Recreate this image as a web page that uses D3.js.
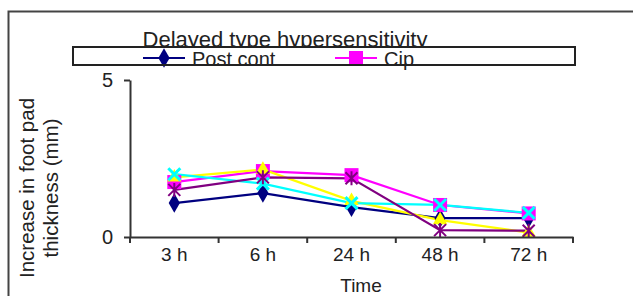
<!DOCTYPE html>
<html>
<head>
<meta charset="utf-8">
<script src="https://cdn.jsdelivr.net/npm/d3@7"></script>
<style>
  body { margin: 0; background: #fff; }
  text { font-family: "Liberation Sans", Arial, sans-serif; fill: #222; }
</style>
</head>
<body>
<svg id="chart" width="633" height="296"></svg>
<script>
var categories = ["3 h", "6 h", "24 h", "48 h", "72 h"];
var postCont = [1.08, 1.4, 0.95, 0.6, 0.6];
var cip = [1.75, 2.1, 1.97, 1.02, 0.75];
var seriesYellow = [1.9, 2.15, 1.15, 0.54, 0.14];
var seriesCyan = [2.0, 1.7, 1.08, 1.02, 0.77];
var seriesPurple = [1.5, 1.9, 1.87, 0.22, 0.2];
var yTicks = [0, 5];

var series = [
  {name: "Post cont", values: postCont, color: "#000080", marker: "diamond"},
  {name: "Cip", values: cip, color: "#FF00FF", marker: "square"},
  {name: "s3", values: seriesYellow, color: "#FFFF00", marker: "triangle"},
  {name: "s4", values: seriesCyan, color: "#00FFFF", marker: "x"},
  {name: "s5", values: seriesPurple, color: "#800080", marker: "star"}
];

var svg = d3.select("#chart");

// outer frame
svg.append("path")
  .attr("d", "M8.5,300 V11.5 H640")
  .attr("fill", "none").attr("stroke", "#444").attr("stroke-width", 2);

var x = d3.scaleBand().domain(categories).range([130, 573]);
var y = d3.scaleLinear().domain([0, 5]).range([237, 80]);

function drawMarker(g, type, color) {
  if (type == "diamond") {
    g.append("path").attr("d", d3.symbol().type(d3.symbolDiamond).size(110)())
      .attr("fill", color);
  } else if (type == "square") {
    g.append("rect").attr("x", -7).attr("y", -7).attr("width", 14).attr("height", 14)
      .attr("fill", color);
  } else if (type == "triangle") {
    g.append("path").attr("d", d3.symbol().type(d3.symbolTriangle).size(90)())
      .attr("fill", color);
  } else if (type == "x") {
    g.append("path").attr("d", "M-6,-6L6,6M-6,6L6,-6")
      .attr("stroke", color).attr("stroke-width", 3);
  } else {
    g.append("path").attr("d", "M-6,-6L6,6M-6,6L6,-6M0,-7V7")
      .attr("stroke", color).attr("stroke-width", 2);
  }
}

// series
var line = d3.line()
  .x(function(d, i) { return x(categories[i]) + x.bandwidth() / 2; })
  .y(function(d) { return y(d); });

series.forEach(function(s) {
  svg.append("path")
    .attr("d", line(s.values))
    .attr("fill", "none")
    .attr("stroke", s.color)
    .attr("stroke-width", 2.2);
});
series.forEach(function(s) {
  s.values.forEach(function(v, i) {
    var g = svg.append("g")
      .attr("transform", "translate(" + (x(categories[i]) + x.bandwidth() / 2) + "," + y(v) + ")");
    drawMarker(g, s.marker, s.color);
  });
});

// axes
var xAxis = svg.append("g").attr("transform", "translate(0,237)")
  .call(d3.axisBottom(x).tickSize(0).tickPadding(11));
xAxis.select(".domain").attr("stroke", "#333").attr("stroke-width", 2);
xAxis.selectAll("text").attr("font-size", 19).attr("fill", "#222")
  .style("font-family", "Liberation Sans, Arial, sans-serif");
// tick marks between categories
var bounds = categories.map(function(c) { return x(c); }).concat([x.range()[1]]);
xAxis.selectAll(".sep").data(bounds).enter().append("line")
  .attr("x1", function(d) { return d; }).attr("x2", function(d) { return d; })
  .attr("y1", 0).attr("y2", 6)
  .attr("stroke", "#333").attr("stroke-width", 2);

var yAxis = svg.append("g").attr("transform", "translate(130,0)")
  .call(d3.axisLeft(y).tickValues(yTicks).tickFormat(d3.format("d"))
    .tickSize(6).tickSizeOuter(0).tickPadding(11));
yAxis.select(".domain").attr("stroke", "#333").attr("stroke-width", 2);
yAxis.selectAll(".tick line").attr("stroke", "#333").attr("stroke-width", 2);
yAxis.selectAll("text").attr("font-size", 20).attr("fill", "#222")
  .style("font-family", "Liberation Sans, Arial, sans-serif");

// axis titles
svg.append("text").attr("x", 361).attr("y", 292)
  .attr("text-anchor", "middle").attr("font-size", 19).text("Time");

var yt = svg.append("text")
  .attr("transform", "translate(34,188) rotate(-90)")
  .attr("text-anchor", "middle").attr("font-size", 20.5);
yt.append("tspan").attr("x", 0).attr("dy", 0).text("Increase in foot pad");
yt.append("tspan").attr("x", 0).attr("dy", 24).text("thickness (mm)");

// title
svg.append("text").attr("x", 285).attr("y", 47)
  .attr("text-anchor", "middle").attr("font-size", 22)
  .text("Delayed type hypersensitivity");

// legend (only the first row is visible)
var legendBox = svg.append("g");
legendBox.append("rect").attr("x", 73).attr("y", 47).attr("width", 502).attr("height", 18)
  .attr("fill", "#fff");
var legendX = [143, 335];
series.slice(0, 2).forEach(function(s, i) {
  var lg = legendBox.append("g").attr("transform", "translate(" + legendX[i] + ",58)");
  lg.append("line").attr("x1", 0).attr("x2", 42).attr("y1", 0).attr("y2", 0)
    .attr("stroke", s.color).attr("stroke-width", 2);
  var m = lg.append("g").attr("transform", "translate(21,0)");
  drawMarker(m, s.marker, s.color);
  lg.append("text").attr("x", 49).attr("y", 8).attr("font-size", 20).text(s.name);
});
legendBox.append("rect").attr("x", 73).attr("y", 47).attr("width", 502).attr("height", 18)
  .attr("fill", "none").attr("stroke", "#222").attr("stroke-width", 2);
</script>
</body>
</html>
